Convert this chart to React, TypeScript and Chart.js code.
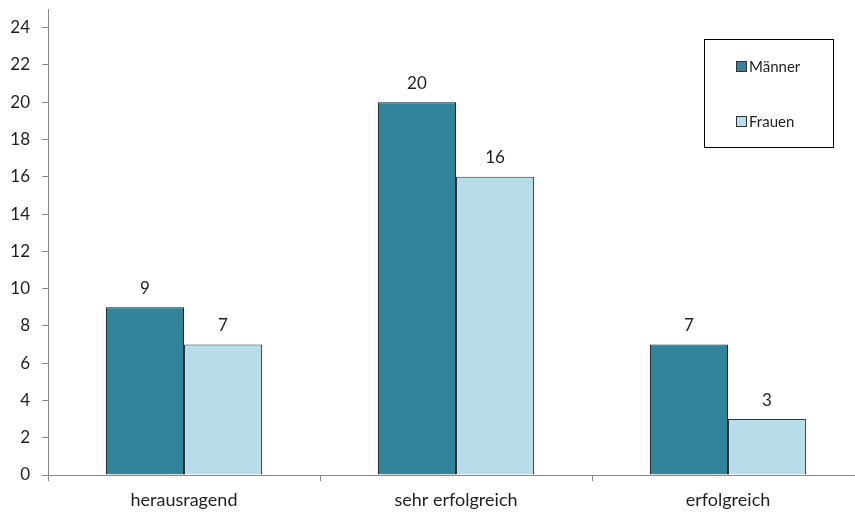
import React, { useEffect, useRef } from "react";
import { Chart, registerables } from "chart.js";

Chart.register(...registerables);

const categories = ["herausragend", "sehr erfolgreich", "erfolgreich"];
const seriesNames = ["Männer", "Frauen"];
const maenner = [9, 20, 7];
const frauen = [7, 16, 3];
const yTicks = [0, 2, 4, 6, 8, 10, 12, 14, 16, 18, 20, 22, 24];
const colors = ["#31849B", "#B7DEE8"];

const FONT = "Lato, 'Liberation Sans', sans-serif";

const valueLabels = {
  id: "valueLabels",
  afterDatasetsDraw(chart: any) {
    const ctx = chart.ctx;
    ctx.save();
    ctx.font = `17px ${FONT}`;
    ctx.fillStyle = "#1f1f1f";
    ctx.textAlign = "center";
    ctx.textBaseline = "middle";
    chart.data.datasets.forEach((ds: any, i: number) => {
      const meta = chart.getDatasetMeta(i);
      meta.data.forEach((bar: any, j: number) => {
        ctx.fillText(String(ds.data[j]), bar.x, bar.y - 19);
      });
    });
    ctx.restore();
  },
};

const boxLegend = {
  id: "boxLegend",
  afterDraw(chart: any) {
    const ctx = chart.ctx;
    ctx.save();
    ctx.strokeStyle = "#000";
    ctx.lineWidth = 1;
    ctx.strokeRect(704.5, 39.5, 129, 108);
    ctx.font = `15px ${FONT}`;
    ctx.textAlign = "left";
    ctx.textBaseline = "middle";
    const ys = [61, 116];
    seriesNames.forEach((name, i) => {
      ctx.fillStyle = colors[i];
      ctx.fillRect(736, ys[i], 11, 11);
      ctx.strokeStyle = "#333";
      ctx.strokeRect(736.5, ys[i] + 0.5, 10, 10);
      ctx.fillStyle = "#1f1f1f";
      ctx.fillText(name, 749, ys[i] + 6);
    });
    ctx.restore();
  },
};

export default function App() {
  const ref = useRef<HTMLCanvasElement>(null);
  useEffect(() => {
    const chart = new Chart(ref.current!, {
      type: "bar",
      data: {
        labels: categories,
        datasets: [
          { label: seriesNames[0], data: maenner, backgroundColor: colors[0], borderColor: "#1a1a1a", borderWidth: 1 },
          { label: seriesNames[1], data: frauen, backgroundColor: colors[1], borderColor: "#333", borderWidth: 1 },
        ],
      },
      options: {
        responsive: false,
        animation: false,
        devicePixelRatio: 1,
        layout: { padding: { top: 9, left: 0, right: 0, bottom: 0 } },
        plugins: { legend: { display: false }, tooltip: { enabled: false } },
        datasets: { bar: { barPercentage: 1, categoryPercentage: 0.574 } },
        scales: {
          x: {
            afterFit: (s: any) => { s.height = 37; s.paddingLeft = 0; s.paddingRight = 0; },
            grid: { offset: true, drawOnChartArea: false, drawTicks: true, tickLength: 6, color: "#888" },
            border: { color: "#888", width: 1 },
            ticks: { font: { family: FONT, size: 18 }, color: "#1f1f1f", padding: 8 },
          },
          y: {
            min: 0,
            max: 25,
            afterFit: (s: any) => { s.width = 48; s.paddingTop = 0; s.paddingBottom = 0; },
            afterBuildTicks: (s: any) => { s.ticks = yTicks.map((v) => ({ value: v })); },
            grid: { drawOnChartArea: false, drawTicks: true, tickLength: 6, color: "#888" },
            border: { color: "#888", width: 1 },
            ticks: { stepSize: 2, font: { family: FONT, size: 17 }, color: "#1f1f1f", padding: 12 },
          },
        },
      },
      plugins: [valueLabels, boxLegend],
    });
    return () => chart.destroy();
  }, []);
  return (
    <div style={{ position: "fixed", left: 0, top: 0, width: 855, height: 512, overflow: "hidden", background: "#fff" }}>
      <canvas ref={ref} width={864} height={512} style={{ display: "block" }} />
    </div>
  );
}
